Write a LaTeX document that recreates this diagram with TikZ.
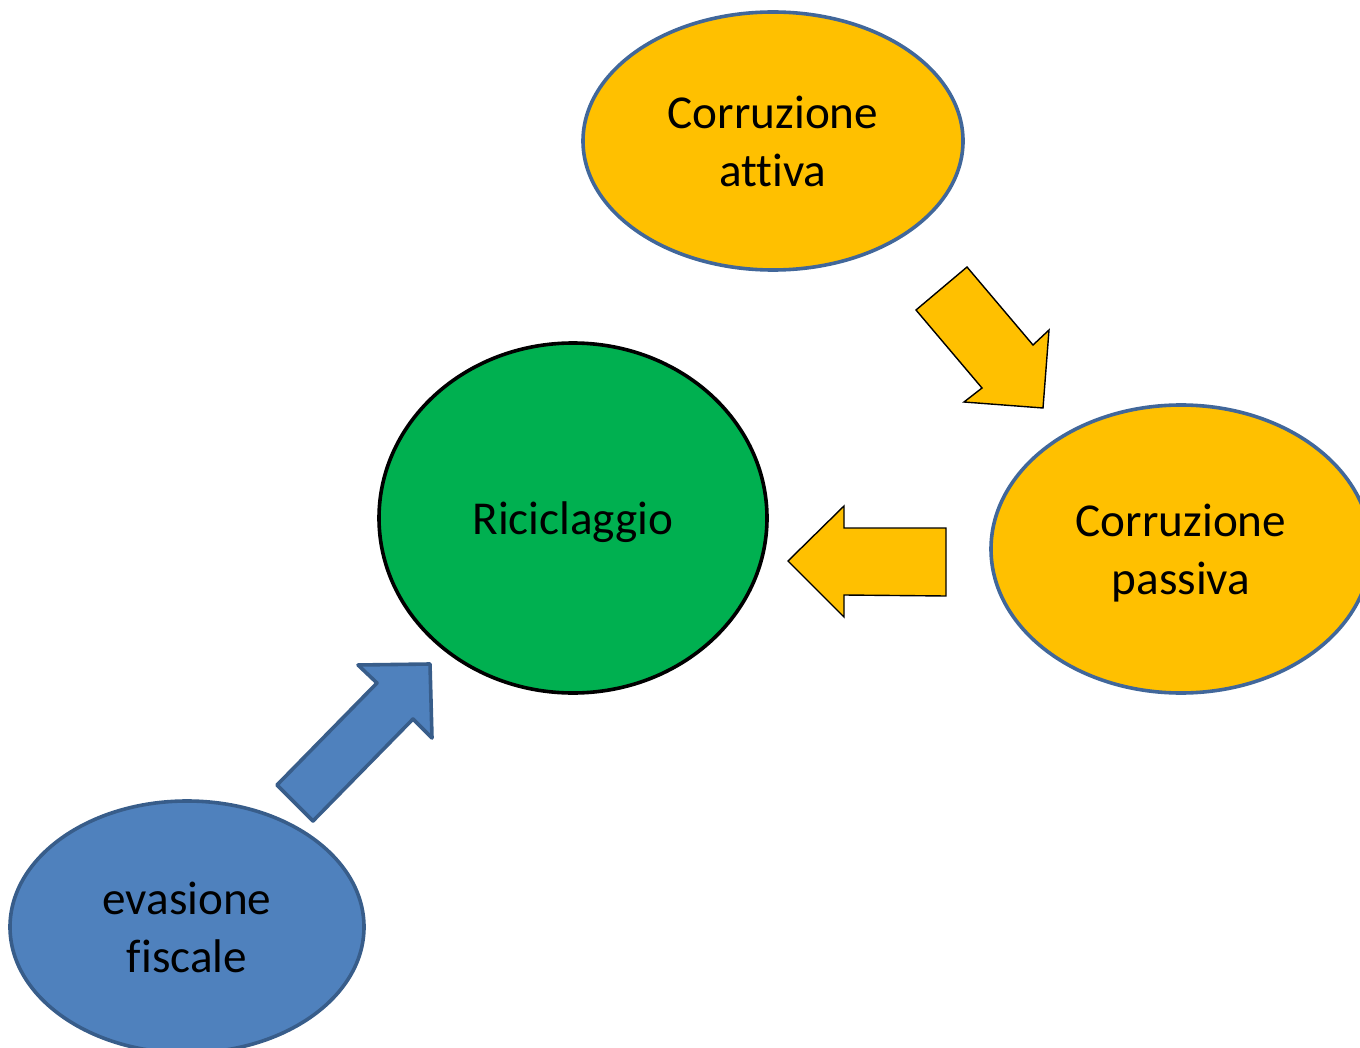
\documentclass[tikz,border=0pt]{standalone}
\usepackage{fontspec}
\setmainfont{Carlito}[Ligatures=NoCommon]
\usetikzlibrary{shapes.geometric}
\definecolor{gold}{HTML}{FFC000}
\definecolor{goldline}{HTML}{41679A}
\definecolor{green}{HTML}{00B050}
\definecolor{blueF}{HTML}{4F81BD}
\definecolor{blueL}{HTML}{385D8A}
\tikzset{
  bubble/.style={ellipse, inner sep=0pt, line width=1.8pt},
  txt/.style={align=center, font=\fontsize{23.6}{29}\selectfont, yshift=-2pt, inner sep=0pt},
  goldbubble/.style={bubble, fill=gold, draw=goldline},
  goldarrow/.style={fill=gold, draw=black, line width=0.7pt, line join=miter},
  bluearrow/.style={fill=blueF, draw=blueL, line width=1.8pt, line join=round},
}
\begin{document}
\begin{tikzpicture}[x=0.5pt, y=-0.5pt]
\useasboundingbox (0,0) rectangle (1360,1048);
\clip (0,0) rectangle (1360,1048);
\node[goldbubble, minimum width=190pt, minimum height=129pt,
  label={[txt, yshift=2pt]center:Corruzione\\attiva}] (attiva) at (773,141) {};
\node[bubble, fill=green, draw=black, minimum width=194pt, minimum height=175pt,
  label={[txt]center:Riciclaggio}] (ric) at (573,518) {};
\node[goldbubble, minimum width=190pt, minimum height=144pt,
  label={[txt]center:Corruzione\\passiva}] (passiva) at (1181,549) {};
\node[bubble, fill=blueF, draw=blueL, minimum width=177pt, minimum height=126pt,
  label={[txt, yshift=2pt]center:evasione\\fiscale}] (evasione) at (187,927) {};
% arrow: attiva -> passiva
\draw[goldarrow] (916,310) -- (967,267) -- (1033,345) -- (1049,330) -- (1043,408) -- (964,402) -- (982,388) -- cycle;
% arrow: passiva -> riciclaggio
\draw[goldarrow] (788,561) -- (844,506) -- (844,528) -- (946,528) -- (946,596) -- (844,595) -- (844,617) -- cycle;
% arrow: evasione -> riciclaggio
\draw[bluearrow] (277,785) -- (377,683) -- (358,665) -- (430,664) -- (432,738) -- (413,719) -- (313,821) -- cycle;
\end{tikzpicture}
\end{document}
